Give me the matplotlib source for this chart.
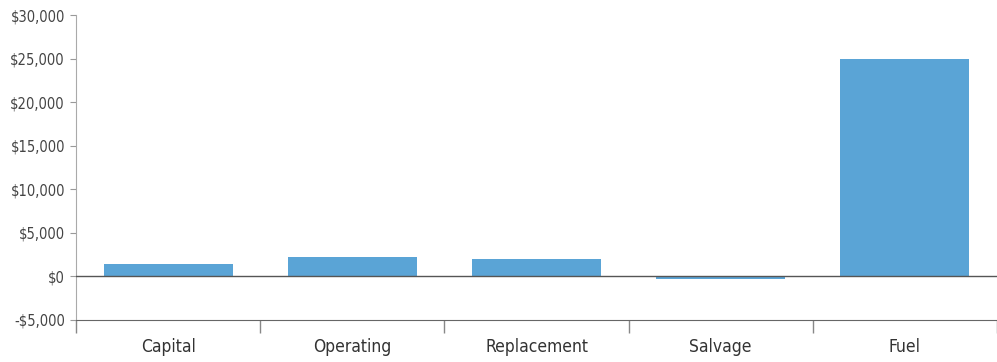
import matplotlib
matplotlib.use("Agg")
from matplotlib import pyplot as plt
from matplotlib.ticker import FuncFormatter, FixedLocator

# 数据
categories = ['Capital', 'Operating', 'Replacement', 'Salvage', 'Fuel']
costs = [1400, 2250, 2000, -350, 25000]
y_ticks = [-5000, 0, 5000, 10000, 15000, 20000, 25000, 30000]

plt.rcParams['font.family'] = ['DejaVu Sans']

fig = plt.figure(figsize=(9.97, 3.62), dpi=100)
ax = fig.add_axes([76 / 997, 42 / 362, 921 / 997, 305 / 362])

x = list(range(len(categories)))
ax.bar(x, costs, width=0.7, color='#5aa4d6', zorder=2)
ax.axhline(0, color='#555555', linewidth=1, zorder=3)

ax.set_xlim(-0.5, 4.5)
ax.set_ylim(-5000, 30000)
ax.set_yticks(y_ticks)

def money(v, pos):
    if v < 0:
        return '-${:,.0f}'.format(-v)
    return '${:,.0f}'.format(v)

ax.yaxis.set_major_formatter(FuncFormatter(money))

# x 轴：标签居中，刻度在分类边界
ax.set_xticks(x)
ax.set_xticklabels(categories)
ax.tick_params(axis='x', which='major', length=0, pad=13, labelsize=12.5, labelcolor='#333333')
ax.xaxis.set_minor_locator(FixedLocator([-0.5, 0.5, 1.5, 2.5, 3.5, 4.5]))
ax.tick_params(axis='x', which='minor', length=9, color='#888888', width=1)

ax.tick_params(axis='y', length=4, color='#999999', labelsize=10.5, labelcolor='#444444', pad=4)
for lbl in ax.get_yticklabels() + ax.get_xticklabels():
    lbl.set_fontstretch('condensed')

for side in ['top', 'right']:
    ax.spines[side].set_visible(False)
ax.spines['left'].set_color('#aaaaaa')
ax.spines['bottom'].set_color('#666666')

plt.savefig('out.png', dpi=100)
